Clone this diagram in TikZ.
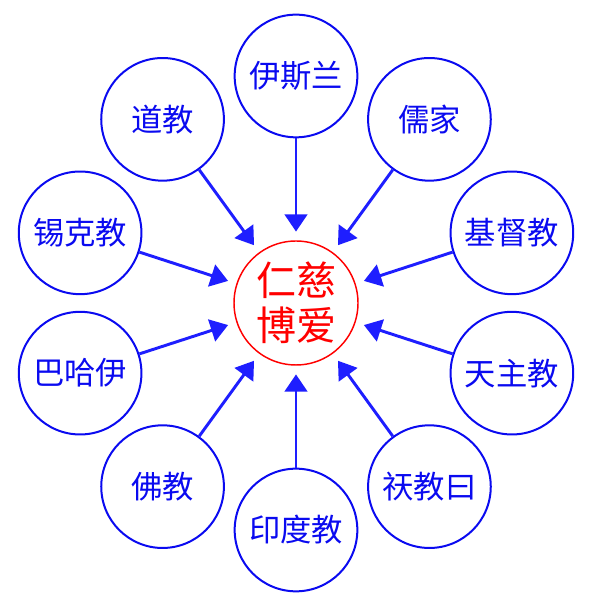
\documentclass[tikz,border=0pt]{standalone}
\usepackage{fontspec}
\usepackage{xcolor}
\usetikzlibrary{arrows.meta}
\newfontfamily\cjk{Noto Sans CJK SC}
\definecolor{ringblue}{RGB}{10,10,240}
\definecolor{arrowblue}{RGB}{30,30,255}

\tikzset{
  faith/.style={circle, draw=ringblue, line width=1.5pt, minimum size=92pt,
    inner sep=0pt, text=ringblue, font=\cjk\fontsize{23.5}{25}\selectfont},
  core/.style={circle, draw=red, line width=1.1pt, minimum size=93pt,
    inner sep=0pt, text=red, align=center,
    font=\cjk\fontsize{30}{34}\selectfont},
  flow/.style={->, arrowblue, line width=2.2pt, shorten >=6.5pt}
}

\begin{document}
\begin{tikzpicture}[x=0.75pt, y=0.75pt, >={Triangle[length=13pt,width=17pt]}]
\useasboundingbox (0,0) rectangle (590,606);
\coordinate (O) at (296,303);
\node[core] (love) at (O) {仁慈\\博爱};
\foreach \ang/\name/\txt in {90/islam/伊斯兰, 54/ru/儒家, 18/christ/基督教,
    -18/catholic/天主教, -54/zoro/祆教曰, -90/hindu/印度教, -126/buddha/佛教,
    -162/bahai/巴哈伊, 162/sikh/锡克教, 126/dao/道教}{
  \node[faith] (\name) at ([shift={(\ang:227)}]O) {\txt};
  \draw[flow] (\name) -- (love);
}
\end{tikzpicture}
\end{document}
